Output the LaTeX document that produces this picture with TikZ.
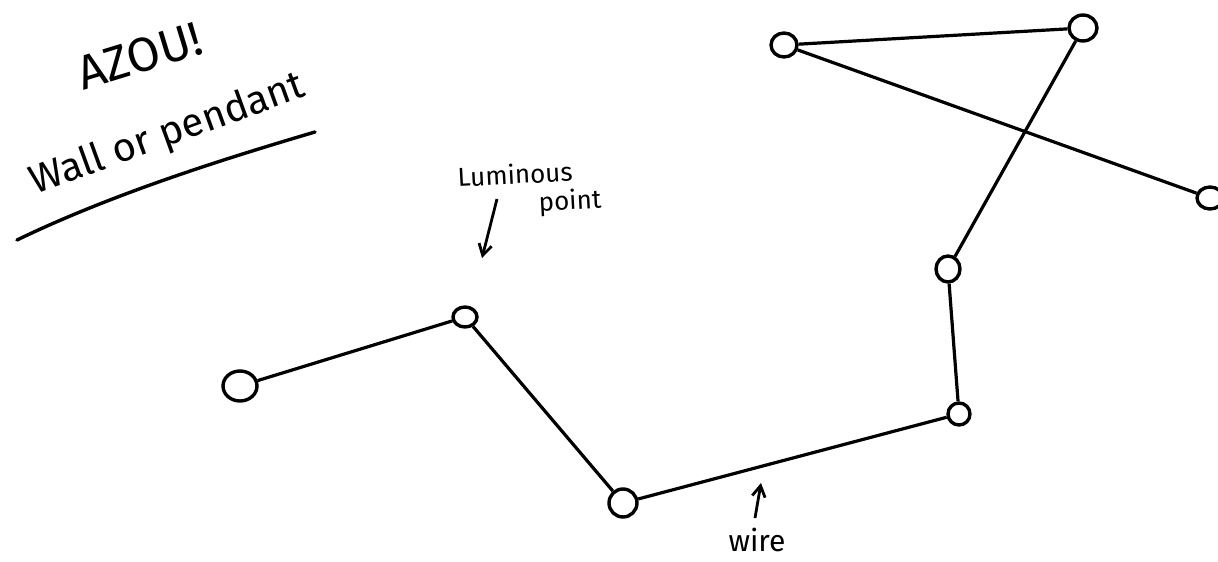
\documentclass[tikz,border=0pt]{standalone}
\usepackage{fontspec}
\setmainfont{Fira Sans}
\usetikzlibrary{shapes.geometric,arrows.meta}
\begin{document}
\begin{tikzpicture}[x=1pt,y=-1pt,
  pt/.style={draw,ellipse,line width=3.4pt,inner sep=0pt},
  wire/.style={line width=3.2pt},
  hand/.style={font=\fontsize{26}{28}\selectfont,inner sep=0pt},
  pointer/.style={line width=2.8pt,-{Straight Barb[length=11pt,width=13pt]}}]
\useasboundingbox (0,0) rectangle (1218,562);
% lamp points
\node[pt,minimum width=34pt,minimum height=30pt] (a) at (240,386) {};
\node[pt,minimum width=24pt,minimum height=20pt] (b) at (465,317) {};
\node[pt,minimum width=28pt,minimum height=28pt] (c) at (623,503) {};
\node[pt,minimum width=22pt,minimum height=22pt] (d) at (959,414) {};
\node[pt,minimum width=24pt,minimum height=26pt] (e) at (948,269) {};
\node[pt,minimum width=28pt,minimum height=26pt] (f) at (1083,28) {};
\node[pt,minimum width=26pt,minimum height=24pt] (g) at (784,45) {};
\node[pt,minimum width=26pt,minimum height=22pt] (h) at (1210,198) {};
% wire
\draw[wire] (a) -- (b);
\draw[wire] (b) -- (c);
\draw[wire] (c) -- (d);
\draw[wire] (d) -- (e);
\draw[wire] (e) -- (f);
\draw[wire] (f) -- (g);
\draw[wire] (g) -- (h);
% title
\node[hand,font=\fontsize{48}{50}\selectfont,rotate=17] (t1) at (140,56) {AZOU!};
\node[hand,font=\fontsize{40}{44}\selectfont,rotate=20] (t2) at (168,135) {Wall or pendant};
\coordinate (u1) at (17,240);
\coordinate (u2) at (315,132);
\draw[line width=3.4pt,line cap=round] (u1) .. controls (110,195) and (220,160) .. (u2);
% labels
\node[hand,rotate=3] (lum) at (515,174) {Luminous};
\node[hand,rotate=3] (poi) at (570,202) {point};
\coordinate (la1) at (497,199);
\coordinate (la2) at (482,258);
\draw[pointer] (la1) -- (la2);
\node[hand,font=\fontsize{30}{32}\selectfont] (wi) at (757,540) {wire};
\coordinate (wa1) at (755,518);
\coordinate (wa2) at (761,483);
\draw[pointer] (wa1) -- (wa2);
\end{tikzpicture}
\end{document}
